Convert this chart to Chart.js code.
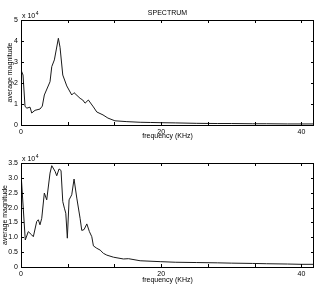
<!DOCTYPE html>
<html><head><meta charset="utf-8">
<script src="https://cdn.jsdelivr.net/npm/chart.js@4/dist/chart.umd.min.js"></script>
<style>
html,body{margin:0;padding:0;background:#fff;width:319px;height:285px;overflow:hidden}
canvas{position:absolute;left:0}
#c1{top:0}
#c2{top:140px}
</style></head><body>
<canvas id="c1" width="319" height="140"></canvas>
<canvas id="c2" width="319" height="145"></canvas>
<script>
// frequency (KHz) and average magnitude (x 10^4)
const topFreq = [0,0.29,0.57,0.81,1.29,1.53,2.0,2.71,3.04,3.33,4.14,4.39,4.76,5.33,5.57,5.96,6.53,7.24,7.57,8.43,8.81,9.14,9.61,10.33,10.81,11.7,12.4,13.4,15.1,17,18.5,20,22,25,28,30,33,35,38,40,41.8];
const topMag  = [2.62,2.38,0.9,0.8,0.85,0.57,0.7,0.76,0.9,1.43,2.06,2.78,3.1,4.13,3.7,2.38,1.86,1.43,1.54,1.27,1.19,1.04,1.19,0.86,0.62,0.48,0.33,0.2,0.16,0.13,0.12,0.11,0.1,0.08,0.07,0.07,0.06,0.06,0.05,0.05,0.05];
const botFreq = [0,0.61,1.04,1.53,1.76,2.24,2.47,2.71,2.96,3.33,3.67,4.14,4.39,4.86,5.1,5.43,5.71,5.96,6.19,6.39,6.61,6.86,7.24,7.57,7.96,8.43,8.67,9.0,9.39,9.76,10.1,10.33,10.81,11.29,11.76,12.24,13.19,14.61,15.33,17,19.86,22,25,28,30,33,35,38,40,41.8];
const botMag  = [3.17,0.91,1.19,1.08,1.02,1.53,1.59,1.42,1.64,2.49,2.26,3.16,3.41,3.22,3.07,3.30,3.25,2.2,1.98,1.81,0.97,2.26,2.43,2.96,2.32,1.64,1.23,1.26,1.45,1.19,1.02,0.71,0.63,0.57,0.46,0.40,0.33,0.27,0.28,0.21,0.18,0.16,0.15,0.14,0.13,0.12,0.11,0.1,0.09,0.09];
const xLabelValues = [0,20,40];
const xTickStep = 20/3;
const xMax = 41.8;
const topYMax = 5, topYStep = 1;
const botYMax = 3.5, botYStep = 0.5;
const chartTitle = 'SPECTRUM';
const xTitle = 'frequency (KHz)';
const yTitle = 'average magnitude';

const FONT = '"Liberation Sans", Arial, sans-serif';

const framePlugin = {
  id: 'frame',
  afterDatasetsDraw(chart, args, o) {
    const {ctx, chartArea: a, scales: {x, y}} = chart;
    ctx.save();
    ctx.strokeStyle = '#000';
    ctx.lineWidth = 1;
    ctx.strokeRect(a.left + 0.5, a.top + 0.5, a.right - a.left - 1, a.bottom - a.top);
    ctx.beginPath();
    x.ticks.forEach(t => {
      const px = Math.round(x.getPixelForValue(t.value)) + 0.5;
      ctx.moveTo(px, a.bottom); ctx.lineTo(px, a.bottom - 3);
      ctx.moveTo(px, a.top); ctx.lineTo(px, a.top + 3);
    });
    y.ticks.forEach(t => {
      const py = Math.round(y.getPixelForValue(t.value)) + 0.5;
      ctx.moveTo(a.left, py); ctx.lineTo(a.left + 3, py);
      ctx.moveTo(a.right, py); ctx.lineTo(a.right - 3, py);
    });
    ctx.stroke();
    ctx.fillStyle = '#000';
    ctx.font = '7px ' + FONT;
    // x 10^4
    ctx.textAlign = 'left'; ctx.textBaseline = 'alphabetic';
    ctx.fillText('x 10', a.left + 1, a.top - 2);
    const w = ctx.measureText('x 10').width;
    ctx.font = '5px ' + FONT;
    ctx.fillText('4', a.left + 1 + w + 0.5, a.top - 5);
    ctx.font = '7px ' + FONT;
    // title
    if (o.title) {
      ctx.textAlign = 'center'; ctx.textBaseline = 'middle';
      ctx.fillText(o.title, (a.left + a.right) / 2, 13);
    }
    // x title
    ctx.textAlign = 'center'; ctx.textBaseline = 'middle';
    ctx.fillText(xTitle, (a.left + a.right) / 2, o.xTitleY);
    // y title
    ctx.save();
    ctx.translate(o.yTitleX, (a.top + a.bottom) / 2);
    ctx.rotate(-Math.PI / 2);
    ctx.fillText(yTitle, 0, 0);
    ctx.restore();
    ctx.restore();
  }
};

function makeChart(id, fx, fy, yMax, yStep, top, bottomH, title, xTitleY, yTitleX) {
  return new Chart(document.getElementById(id), {
    type: 'scatter',
    data: { datasets: [{
      data: fx.map((v, i) => ({x: v, y: fy[i]})),
      showLine: true, borderColor: '#1a1a1a', borderWidth: 1,
      pointRadius: 0, tension: 0, fill: false
    }]},
    options: {
      responsive: false, animation: false, devicePixelRatio: 1,
      layout: { padding: { left: 0, right: 5, top: top, bottom: 0 } },
      plugins: { legend: {display: false}, tooltip: {enabled: false}, title: {display: false},
        frame: { title: title, xTitleY: xTitleY, yTitleX: yTitleX } },
      scales: {
        x: {
          type: 'linear', min: 0, max: xMax,
          afterBuildTicks: s => { const t = []; for (let i = 0; i * xTickStep <= xMax + 1e-9; i++) t.push({value: i * xTickStep}); s.ticks = t; },
          ticks: { autoSkip: false, maxRotation: 0, padding: 3, color: '#000', font: {family: FONT, size: 7},
            callback: v => { const r = xLabelValues.find(l => Math.abs(l - v) < 1e-6); return r === undefined ? '' : String(r); } },
          grid: { display: false, drawTicks: false }, border: { display: false },
          afterFit: s => { s.height = bottomH; }
        },
        y: {
          min: 0, max: yMax,
          ticks: { stepSize: yStep, padding: 3, color: '#000', font: {family: FONT, size: 7} },
          grid: { display: false, drawTicks: false }, border: { display: false },
          afterFit: s => { s.width = 21; }
        }
      }
    },
    plugins: [framePlugin]
  });
}

makeChart('c1', topFreq, topMag, topYMax, topYStep, 20, 15, chartTitle, 136, 10);
makeChart('c2', botFreq, botMag, botYMax, botYStep, 23, 18, null, 140, 5);
</script>
</body></html>
